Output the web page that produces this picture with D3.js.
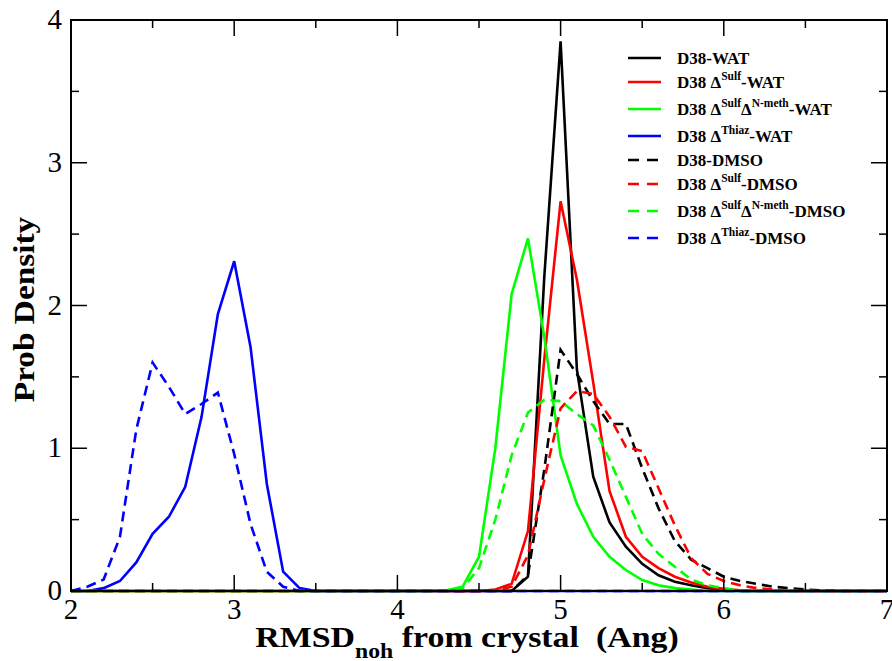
<!DOCTYPE html>
<html>
<head>
<meta charset="utf-8">
<script src="https://cdn.jsdelivr.net/npm/d3@7"></script>
</head>
<body style="margin:0">
<svg id="chart" width="892" height="661"></svg>
<script>
// x grid of the histograms (Ang)
const rmsd = [
  2.0, 2.1, 2.2, 2.3, 2.4, 2.5, 2.6, 2.7, 2.8, 2.9,
  3.0, 3.1, 3.2, 3.3, 3.4, 3.5, 3.6, 3.7, 3.8, 3.9,
  4.0, 4.1, 4.2, 4.3, 4.4, 4.5, 4.6, 4.7, 4.8, 4.9,
  5.0, 5.1, 5.2, 5.3, 5.4, 5.5, 5.6, 5.7, 5.8, 5.9,
  6.0, 6.1, 6.2, 6.3, 6.4, 6.5, 6.6, 6.7, 6.8, 6.9,
  7.0
];

const d38Wat = [
  0, 0, 0, 0, 0, 0, 0, 0, 0, 0,
  0, 0, 0, 0, 0, 0, 0, 0, 0, 0,
  0, 0, 0, 0, 0, 0, 0, 0, 0.1, 2.2,
  3.85, 1.55, 0.80, 0.48, 0.31, 0.19, 0.11, 0.065, 0.04, 0.02,
  0.01, 0, 0, 0, 0, 0, 0, 0, 0, 0,
  0
];
const sulfWat = [
  0, 0, 0, 0, 0, 0, 0, 0, 0, 0,
  0, 0, 0, 0, 0, 0, 0, 0, 0, 0,
  0, 0, 0, 0, 0, 0, 0.01, 0.05, 0.42, 1.62,
  2.73, 2.18, 1.46, 0.70, 0.38, 0.24, 0.16, 0.10, 0.06, 0.03,
  0.015, 0.005, 0, 0, 0, 0, 0, 0, 0, 0,
  0
];
const sulfNmethWat = [
  0, 0, 0, 0, 0, 0, 0, 0, 0, 0,
  0, 0, 0, 0, 0, 0, 0, 0, 0, 0,
  0, 0, 0, 0.005, 0.03, 0.24, 1.0, 2.08, 2.47, 1.78,
  0.95, 0.61, 0.38, 0.24, 0.147, 0.077, 0.04, 0.02, 0.01, 0,
  0, 0, 0, 0, 0, 0, 0, 0, 0, 0,
  0
];
const thiazWat = [
  0, 0, 0.02, 0.07, 0.2, 0.4, 0.52, 0.73, 1.22, 1.94,
  2.31, 1.71, 0.75, 0.135, 0.02, 0, 0, 0, 0, 0,
  0, 0, 0, 0, 0, 0, 0, 0, 0, 0,
  0, 0, 0, 0, 0, 0, 0, 0, 0, 0,
  0, 0, 0, 0, 0, 0, 0, 0, 0, 0,
  0
];
const d38Dmso = [
  0, 0, 0, 0, 0, 0, 0, 0, 0, 0,
  0, 0, 0, 0, 0, 0, 0, 0, 0, 0,
  0, 0, 0, 0, 0, 0, 0, 0, 0.11, 0.85,
  1.69, 1.52, 1.33, 1.17, 1.17, 0.86, 0.58, 0.35, 0.22, 0.16,
  0.10, 0.07, 0.05, 0.03, 0.02, 0.01, 0.005, 0, 0, 0,
  0
];
const sulfDmso = [
  0, 0, 0, 0, 0, 0, 0, 0, 0, 0,
  0, 0, 0, 0, 0, 0, 0, 0, 0, 0,
  0, 0, 0, 0, 0, 0, 0.005, 0.03, 0.25, 0.78,
  1.28, 1.40, 1.38, 1.22, 1.01, 0.98, 0.72, 0.46, 0.23, 0.12,
  0.07, 0.04, 0.02, 0.01, 0, 0, 0, 0, 0, 0,
  0
];
const sulfNmethDmso = [
  0, 0, 0, 0, 0, 0, 0, 0, 0, 0,
  0, 0, 0, 0, 0, 0, 0, 0, 0, 0,
  0, 0, 0, 0, 0.02, 0.16, 0.5, 0.95, 1.25, 1.34,
  1.33, 1.24, 1.16, 0.92, 0.66, 0.40, 0.26, 0.17, 0.08, 0.04,
  0.02, 0, 0, 0, 0, 0, 0, 0, 0, 0,
  0
];
const thiazDmso = [
  0, 0.03, 0.08, 0.38, 1.13, 1.6, 1.43, 1.24, 1.31, 1.39,
  0.96, 0.47, 0.135, 0.03, 0, 0, 0, 0, 0, 0,
  0, 0, 0, 0, 0, 0, 0, 0, 0, 0,
  0, 0, 0, 0, 0, 0, 0, 0, 0, 0,
  0, 0, 0, 0, 0, 0, 0, 0, 0, 0,
  0
];

// legend labels: [text, isSuperscript]
const seriesLabels = [
  [["D38-WAT", false]],
  [["D38 \u0394", false], ["Sulf", true], ["-WAT", false]],
  [["D38 \u0394", false], ["Sulf", true], ["\u0394", false], ["N-meth", true], ["-WAT", false]],
  [["D38 \u0394", false], ["Thiaz", true], ["-WAT", false]],
  [["D38-DMSO", false]],
  [["D38 \u0394", false], ["Sulf", true], ["-DMSO", false]],
  [["D38 \u0394", false], ["Sulf", true], ["\u0394", false], ["N-meth", true], ["-DMSO", false]],
  [["D38 \u0394", false], ["Thiaz", true], ["-DMSO", false]]
];
const seriesValues = [d38Wat, sulfWat, sulfNmethWat, thiazWat, d38Dmso, sulfDmso, sulfNmethDmso, thiazDmso];

const xMajor = [2, 3, 4, 5, 6, 7];
const xMinor = [2.5, 3.5, 4.5, 5.5, 6.5];
const yMajor = [0, 1, 2, 3, 4];
const yMinor = [0.5, 1.5, 2.5, 3.5];

// styles
const colors = ["#000000", "#ff0000", "#00ff00", "#0000ff", "#000000", "#ff0000", "#00ff00", "#0000ff"];
const dashed = [false, false, false, false, true, true, true, true];
const face = "Times New Roman";

const margin = { top: 20, right: 5, bottom: 70, left: 71 };
const width = 892, height = 661;

const svg = d3.select("#chart");

const x = d3.scaleLinear().domain([2, 7]).range([margin.left, width - margin.right]);
const y = d3.scaleLinear().domain([0, 4]).range([height - margin.bottom, margin.top]);

const x0 = x.range()[0], x1 = x.range()[1];
const y0 = y.range()[0], y1 = y.range()[1];

// curves
const line = d3.line()
  .x(function (d, i) { return x(rmsd[i]); })
  .y(function (d) { return y(d); });

svg.append("g")
  .selectAll("path")
  .data(seriesValues)
  .enter().append("path")
  .attr("d", line)
  .attr("fill", "none")
  .attr("stroke", function (d, i) { return colors[i]; })
  .attr("stroke-width", 2.6)
  .attr("stroke-dasharray", function (d, i) { return dashed[i] ? "10,6" : null; });

// ticks drawn by hand from the scales, inward on all four sides
const ticks = svg.append("g").attr("stroke", "#000").attr("stroke-width", 1.5);
function xTicks(values, len) {
  values.forEach(function (v) {
    ticks.append("line").attr("x1", x(v)).attr("x2", x(v)).attr("y1", y0).attr("y2", y0 - len);
    ticks.append("line").attr("x1", x(v)).attr("x2", x(v)).attr("y1", y1).attr("y2", y1 + len);
  });
}
function yTicks(values, len) {
  values.forEach(function (v) {
    ticks.append("line").attr("x1", x0).attr("x2", x0 + len).attr("y1", y(v)).attr("y2", y(v));
    ticks.append("line").attr("x1", x1).attr("x2", x1 - len).attr("y1", y(v)).attr("y2", y(v));
  });
}
xTicks(xMajor, 16);
xTicks(xMinor, 8);
yTicks(yMajor, 16);
yTicks(yMinor, 8);

// tick labels
xMajor.forEach(function (v) {
  svg.append("text")
    .attr("x", x(v)).attr("y", y0 + 28)
    .attr("text-anchor", "middle")
    .attr("font-family", face)
    .attr("font-size", 29)
    .text(v);
});
yMajor.forEach(function (v) {
  svg.append("text")
    .attr("x", x0 - 9).attr("y", y(v) + 9)
    .attr("text-anchor", "end")
    .attr("font-family", face)
    .attr("font-size", 29)
    .text(v);
});

svg.append("rect")
  .attr("x", x0).attr("y", y1)
  .attr("width", x1 - x0).attr("height", y0 - y1)
  .attr("fill", "none")
  .attr("stroke", "#000")
  .attr("stroke-width", 2);

// axis titles
const xTitle = svg.append("text")
  .attr("transform", `translate(${(x0 + x1) / 2 - 12}, 647) scale(1.13, 1)`)
  .attr("text-anchor", "middle")
  .attr("font-family", face)
  .attr("font-weight", "bold")
  .attr("font-size", 30);
xTitle.append("tspan").text("RMSD");
xTitle.append("tspan").attr("dy", 11).attr("font-size", 21).text("noh");
xTitle.append("tspan").attr("dy", -11).text(" from crystal \u00a0(Ang)");

svg.append("text")
  .attr("transform", `translate(34, ${(y0 + y1) / 2 + 4}) rotate(-90) scale(1.11, 1)`)
  .attr("text-anchor", "middle")
  .attr("font-family", face)
  .attr("font-weight", "bold")
  .attr("font-size", 30)
  .text("Prob Density");

// legend
const legendRows = [58, 82, 109, 136, 160, 184, 211, 238];
seriesLabels.forEach(function (parts, i) {
  const ly = legendRows[i];
  svg.append("line")
    .attr("x1", 628).attr("x2", 661)
    .attr("y1", ly).attr("y2", ly)
    .attr("stroke", colors[i])
    .attr("stroke-width", 2.6)
    .attr("stroke-dasharray", dashed[i] ? "11,8" : null);
  const t = svg.append("text")
    .attr("x", 677).attr("y", ly + 6)
    .attr("font-family", face)
    .attr("font-weight", "bold")
    .attr("font-size", 17);
  let raised = false;
  parts.forEach(function (p) {
    const ts = t.append("tspan").text(p[0]);
    if (p[1]) {
      ts.attr("dy", -8).attr("font-size", 11.5);
      raised = true;
    } else if (raised) {
      ts.attr("dy", 8);
      raised = false;
    }
  });
});
</script>
</body>
</html>
